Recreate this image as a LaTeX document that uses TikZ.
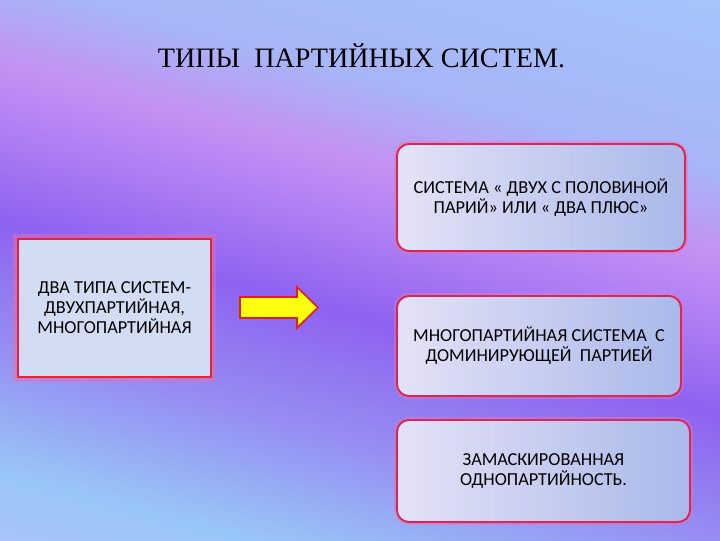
\documentclass[tikz,border=0pt]{standalone}
\usepackage{fontspec}
\setmainfont{Carlito}
\newfontfamily\titlefont{Liberation Serif}
\usetikzlibrary{fadings}
\definecolor{bgA}{HTML}{B4C2F8}
\definecolor{bgB}{HTML}{98C6F8}
\definecolor{bgC}{HTML}{9690F2}
\definecolor{bgD}{HTML}{8E62F0}
\definecolor{bgE}{HTML}{B080F4}
\definecolor{bgF}{HTML}{C490F2}
\definecolor{bgG}{HTML}{A8B4F8}
\definecolor{bgH}{HTML}{A4C4FA}
\definecolor{bgI}{HTML}{B8C4F8}
\definecolor{boxred}{HTML}{D8285A}
\definecolor{boxleft}{HTML}{E4E2F6}
\definecolor{boxright}{HTML}{A9B9EA}
\definecolor{boxglow}{HTML}{E878B8}
\definecolor{leftred}{HTML}{E8203A}
\definecolor{leftfill}{HTML}{D2DCF2}
\definecolor{leftglow}{HTML}{E070B0}
\definecolor{arrowyel}{HTML}{FFFF10}
\definecolor{arrowred}{HTML}{E02020}
\pgfdeclareverticalshading{bgband}{100bp}{color(0bp)=(bgA); color(15bp)=(bgA); color(25bp)=(bgB); color(35bp)=(bgC); color(46bp)=(bgD); color(54bp)=(bgE); color(59bp)=(bgF); color(66bp)=(bgG); color(80bp)=(bgH); color(95bp)=(bgI); color(100bp)=(bgI)}
\begin{document}
\begin{tikzpicture}[x=0.025cm,y=-0.025cm,
  sysbox/.style={draw=boxred,line width=1.4pt,rounded corners=0.3cm,left color=boxleft,right color=boxright,
    align=center,font=\fontsize{13}{14.2}\selectfont,
    preaction={draw=boxglow,line width=4pt,draw opacity=0.45}},
  typebox/.style={draw=leftred,line width=1.6pt,fill=leftfill,align=center,font=\fontsize{13}{14.2}\selectfont,
    preaction={draw=leftglow,line width=7pt,draw opacity=0.5}}]
  \useasboundingbox (0,0) rectangle (720,540);
  % background
  \shade[shading=bgband,shading angle=-15] (0,0) rectangle (720,540);

  \node[font=\titlefont\fontsize{20}{24}\selectfont,anchor=base] (title) at (361.5,67) {ТИПЫ\ \ ПАРТИЙНЫХ СИСТЕМ.};

  \node[typebox,minimum width=4.825cm,minimum height=3.45cm] (types) at (114.5,308)
    {ДВА ТИПА СИСТЕМ-\\ДВУХПАРТИЙНАЯ,\\МНОГОПАРТИЙНАЯ};

  % arrow
  \filldraw[fill=arrowyel,draw=arrowred,line width=1.2pt,line join=miter]
    (240,297) -- (297,297) -- (297,287) -- (318,307.5) -- (297,328) -- (297,318) -- (240,318) -- cycle;

  \node[sysbox,minimum width=7.2cm,minimum height=2.675cm] (twohalf) at (541,197.5)
    {СИСТЕМА « ДВУХ С ПОЛОВИНОЙ\\ПАРИЙ» ИЛИ « ДВА ПЛЮС»};
  \node[sysbox,minimum width=7.1cm,minimum height=2.5cm] (dominant) at (539,346)
    {МНОГОПАРТИЙНАЯ СИСТЕМА\ \ С\\ДОМИНИРУЮЩЕЙ\ \ ПАРТИЕЙ};
  \node[sysbox,minimum width=7.325cm,minimum height=2.55cm] (masked) at (543.5,471)
    {ЗАМАСКИРОВАННАЯ\\ОДНОПАРТИЙНОСТЬ.};
\end{tikzpicture}
\end{document}
